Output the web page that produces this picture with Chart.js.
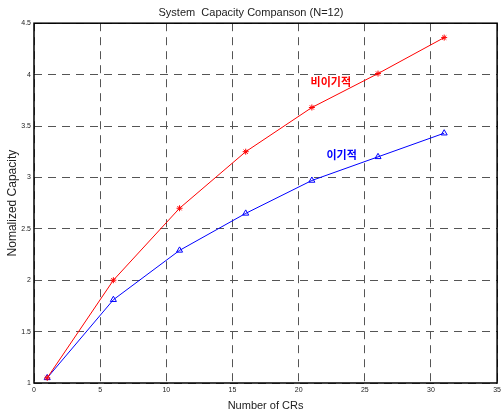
<!DOCTYPE html>
<html lang="ko">
<head>
    <meta charset="UTF-8">
    <script src="https://cdn.jsdelivr.net/npm/chart.js"></script>
    <title>System Capacity Comparison</title>
    <style>
        html, body { margin: 0; padding: 0; background: #fff; }
        #wrap { width: 504px; height: 413px; }
    </style>
</head>
<body>
<div id="wrap"><canvas id="myChart" width="504" height="413"></canvas></div>
<script>
    // number of CRs
    var crs = [1, 6, 11, 16, 21, 26, 31];
    // non-selfish (red) and selfish (blue)
    var nonSelfish = [1.05, 2.0, 2.70, 3.25, 3.68, 4.01, 4.36];
    var selfish = [1.05, 1.81, 2.29, 2.65, 2.97, 3.20, 3.43];
    var xTicks = [0, 5, 10, 15, 20, 25, 30, 35];
    var yTicks = [1, 1.5, 2, 2.5, 3, 3.5, 4, 4.5];

    function toPoints(ys) {
        return crs.map(function (x, i) { return { x: x, y: ys[i] }; });
    }

    // box around plot + text labels on the curves
    var extras = {
        id: 'extras',
        afterDraw: function (chart) {
            var c = chart.ctx, a = chart.chartArea;
            var xs = chart.scales.x, ys = chart.scales.y;
            c.save();
            c.strokeStyle = '#000';
            c.lineWidth = 1.5;
            c.strokeRect(a.left, a.top, a.right - a.left, a.bottom - a.top);
            c.font = 'bold 11px "Noto Sans CJK KR"';
            c.textBaseline = 'middle';
            c.fillStyle = '#ff0000';
            c.fillText('비이기적', xs.getPixelForValue(20.9), ys.getPixelForValue(3.93));
            c.fillStyle = '#0000ff';
            c.fillText('이기적', xs.getPixelForValue(22.1), ys.getPixelForValue(3.22));
            c.restore();
        }
    };

    var tickFmt = function (v) { return String(v); };

    var ctx = document.getElementById('myChart').getContext('2d');
    var myChart = new Chart(ctx, {
        type: 'line',
        data: {
            datasets: [{
                label: '비이기적',
                data: toPoints(nonSelfish),
                borderColor: '#ff0000',
                backgroundColor: '#ff0000',
                borderWidth: 1,
                pointStyle: 'star',
                pointRadius: 3,
                pointBorderWidth: 1,
                tension: 0
            }, {
                label: '이기적',
                data: toPoints(selfish),
                borderColor: '#0000ff',
                backgroundColor: 'rgba(0,0,0,0)',
                borderWidth: 1,
                pointStyle: 'triangle',
                pointRadius: 3.5,
                pointBorderWidth: 1,
                tension: 0
            }]
        },
        options: {
            responsive: false,
            animation: false,
            layout: { padding: { right: 2, left: 0 } },
            plugins: {
                legend: { display: false },
                tooltip: { enabled: false },
                title: {
                    display: true,
                    text: 'System  Capacity Companson (N=12)',
                    color: '#222',
                    font: { family: 'Liberation Sans', size: 11, weight: 'normal' },
                    padding: { top: 6, bottom: 4 }
                }
            },
            scales: {
                x: {
                    type: 'linear',
                    min: 0, max: 35,
                    afterBuildTicks: function (s) { s.ticks = xTicks.map(function (v) { return { value: v }; }); },
                    grid: { color: '#555', lineWidth: 1, tickLength: 0, drawTicks: false },
                    border: { display: false, dash: [8, 6] },
                    ticks: { color: '#222', font: { family: 'Liberation Sans', size: 7 }, padding: 3, maxRotation: 0, callback: tickFmt },
                    title: { display: true, text: 'Number of CRs', color: '#222',
                        font: { family: 'Liberation Sans', size: 11 }, padding: { top: 0, bottom: 0 } },
                    afterFit: function (s) { s.height = 30; }
                },
                y: {
                    min: 1, max: 4.5,
                    afterBuildTicks: function (s) { s.ticks = yTicks.map(function (v) { return { value: v }; }); },
                    grid: { color: '#555', lineWidth: 1, tickLength: 0, drawTicks: false },
                    border: { display: false, dash: [8, 6] },
                    ticks: { color: '#222', font: { family: 'Liberation Sans', size: 7 }, padding: 3, callback: tickFmt },
                    title: { display: true, text: 'Nomalized Capacity', color: '#222',
                        font: { family: 'Liberation Sans', size: 12 }, padding: { top: 5, bottom: 2 } },
                    afterFit: function (s) { s.width = 34; }
                }
            }
        },
        plugins: [extras]
    });
</script>
</body>
</html>
